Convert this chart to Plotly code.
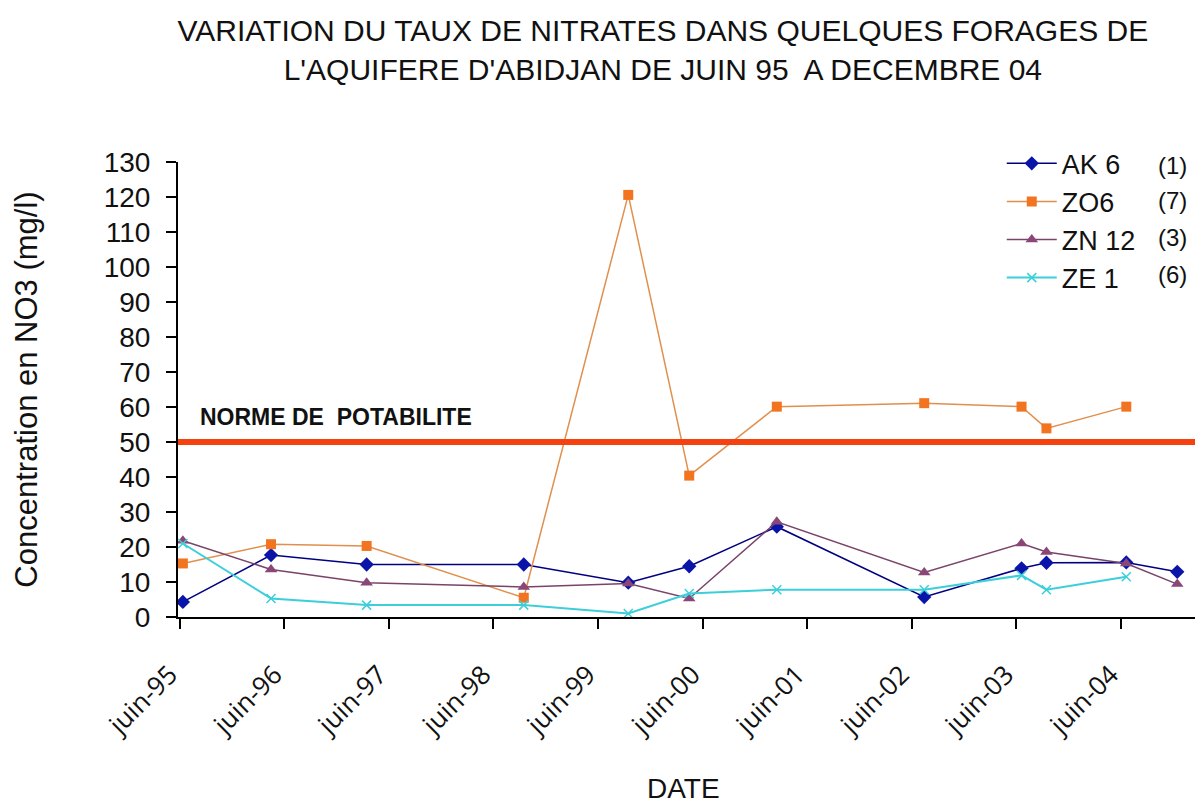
import plotly.graph_objects as go

# dates des prelevements (juin 95 -> decembre 04)
dates = ["1995-06-12", "1996-04-15", "1997-03-15", "1998-09-15", "1999-09-15",
         "2000-04-15", "2001-02-15", "2002-07-15", "2003-06-20", "2003-09-15",
         "2004-06-20", "2004-12-15"]

ak6 = [4.3, 17.7, 15.0, 15.0, 9.8, 14.5, 25.8, 5.7, 13.9, 15.5, 15.6, 12.9]
zo6 = [15.3, 20.8, 20.3, 5.5, 120.6, 40.4, 60.1, 61.1, 60.1, 53.9, 60.1, None]
zn12 = [21.8, 13.6, 9.8, 8.6, 9.6, 5.3, 27.2, 12.7, 21.0, 18.6, 15.3, 9.4]
ze1 = [21.0, 5.3, 3.4, 3.4, 1.0, 6.7, 7.8, 7.8, 11.9, 7.8, 11.5, None]

norme = 50

tick_dates = ["1995-06-01", "1996-06-01", "1997-06-01", "1998-06-01", "1999-06-01",
              "2000-06-01", "2001-06-01", "2002-06-01", "2003-06-01", "2004-06-01"]
tick_labels = ["juin-95", "juin-96", "juin-97", "juin-98", "juin-99",
               "juin-00", "juin-01", "juin-02", "juin-03", "juin-04"]

series_names = ["AK 6", "ZO6", "ZN 12", "ZE 1"]
series_nums = ["(1)", "(7)", "(3)", "(6)"]

font = "Liberation Sans, Arial, sans-serif"

fig = go.Figure()

fig.add_trace(go.Scatter(x=dates, y=ak6, name=series_names[0], mode="lines+markers",
                         line=dict(color="#000080", width=1.5),
                         marker=dict(symbol="diamond", size=11, color="#0A14A8"),
                         legendgroup="a", cliponaxis=False))
fig.add_trace(go.Scatter(x=dates, y=zo6, name=series_names[1], mode="lines+markers",
                         line=dict(color="#E0904E", width=1.5),
                         marker=dict(symbol="square", size=10, color="#F27420"),
                         legendgroup="b", cliponaxis=False))
fig.add_trace(go.Scatter(x=dates, y=zn12, name=series_names[2], mode="lines+markers",
                         line=dict(color="#7A4468", width=1.5),
                         marker=dict(symbol="triangle-up", size=11, color="#8A4676"),
                         legendgroup="c", cliponaxis=False))
fig.add_trace(go.Scatter(x=dates, y=ze1, name=series_names[3], mode="lines+markers",
                         line=dict(color="#3CCFDA", width=2),
                         marker=dict(symbol="x-thin", size=9, color="#3CCFDA",
                                     line=dict(color="#3CCFDA", width=1.5)),
                         legendgroup="d", cliponaxis=False))

# norme de potabilite
fig.add_shape(type="line", xref="paper", yref="y", x0=0, x1=1, y0=norme, y1=norme,
              line=dict(color="#F5400F", width=6))
fig.add_annotation(text="<b>NORME DE  POTABILITE</b>", xref="paper", yref="y",
                   x=0.02, y=norme + 3, xanchor="left", yanchor="bottom",
                   showarrow=False, font=dict(family=font, size=23, color="#111111"))

for i, num in enumerate(series_nums):
    fig.add_annotation(text=num, xref="paper", yref="paper", x=0.978,
                       y=[0.993, 0.916, 0.835, 0.752][i], xanchor="center",
                       yanchor="middle", showarrow=False,
                       font=dict(family=font, size=24, color="#111111"))

fig.add_annotation(text="DATE", xref="paper", yref="paper", x=0.4975, y=-0.376,
                   xanchor="center", yanchor="middle", showarrow=False,
                   font=dict(family=font, size=28, color="#111111"))

fig.update_layout(
    width=1195, height=795,
    margin=dict(l=170, r=8, t=154, b=186),
    paper_bgcolor="white", plot_bgcolor="white",
    title=dict(text="VARIATION DU TAUX DE NITRATES DANS QUELQUES FORAGES DE<br>"
                    "L'AQUIFERE D'ABIDJAN DE JUIN 95  A DECEMBRE 04",
               x=0.548, xanchor="center", y=0.958, yanchor="middle",
               font=dict(family=font, size=30, color="#111111")),
    legend=dict(x=0.81, y=1.05, xanchor="left", yanchor="top",
                font=dict(family=font, size=27, color="#111111"),
                bgcolor="rgba(0,0,0,0)", tracegroupgap=0, itemwidth=50,
                traceorder="grouped"),
    showlegend=True,
)

fig.update_xaxes(type="date", range=["1995-05-26", "2005-02-15"],
                 tickvals=tick_dates, ticktext=tick_labels, tickangle=-45,
                 ticks="outside", ticklen=10, tickwidth=1.5, tickcolor="black",
                 showline=True, linecolor="black", linewidth=2, showgrid=False,
                 zeroline=False, ticklabelstandoff=20, ticklabelshift=-10,
                 tickfont=dict(family="Open Sans, sans-serif", size=26, color="#111111"))

fig.update_yaxes(range=[0, 130], dtick=10, ticks="outside", ticklen=10,
                 tickwidth=1.5, tickcolor="black", showline=True, linecolor="black",
                 linewidth=2, showgrid=False, zeroline=False, ticklabelstandoff=10,
                 tickfont=dict(family=font, size=28, color="#111111"),
                 title=dict(text="Concentration en NO3 (mg/l)",
                            font=dict(family=font, size=31, color="#111111"),
                            standoff=57))

fig.write_html("out.html")
